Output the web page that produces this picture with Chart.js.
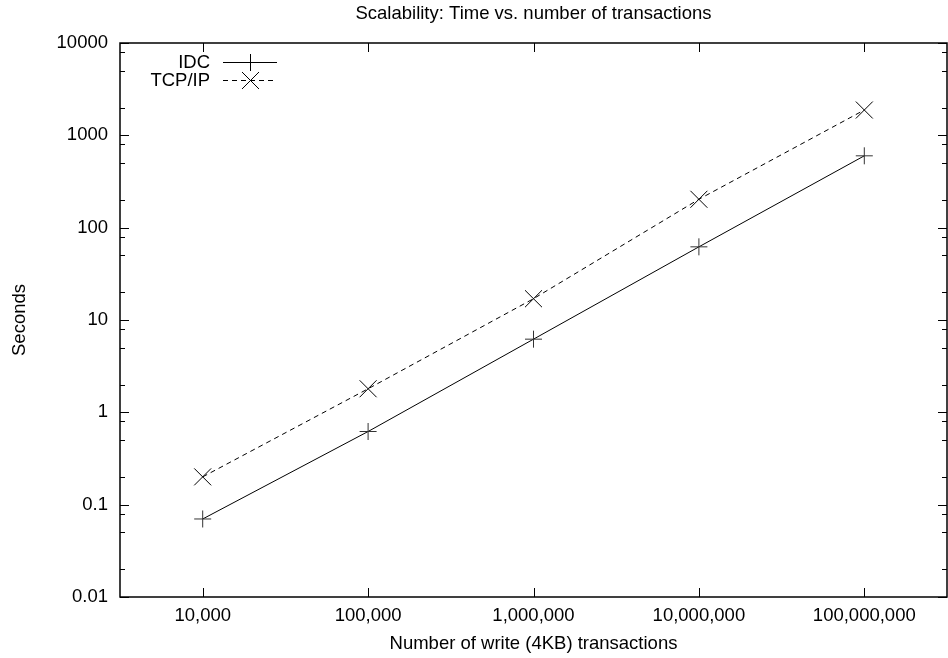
<!DOCTYPE html>
<html>
<head>
<meta charset="utf-8">
<script src="https://cdn.jsdelivr.net/npm/chart.js@4.4.1/dist/chart.umd.min.js"></script>
<style>
html, body { margin: 0; padding: 0; background: #fff; overflow: hidden; }
#wrap { width: 960px; height: 658px; }
</style>
</head>
<body>
<div id="wrap"><canvas id="chart" width="960" height="658"></canvas></div>
<script>
"use strict";
// data (log-log)
const transactions = [10000, 100000, 1000000, 10000000, 100000000];
const xTickLabels = ['10,000', '100,000', '1,000,000', '10,000,000', '100,000,000'];
const idcSeconds = [0.07, 0.62, 6.2, 62, 600];
const tcpSeconds = [0.2, 1.8, 17, 203, 1880];
const yTicks = [0.01, 0.1, 1, 10, 100, 1000, 10000];
const yTickLabels = ['0.01', '0.1', '1', '10', '100', '1000', '10000'];
const minorSteps = [2, 5, 8];

const FAMILY = '"Liberation Sans", Arial, Helvetica, sans-serif';
const FONT_SIZE = 18.5;

// gnuplot-style frame with inward ticks, mirrored on top/right
const frameTicks = {
    id: 'frameTicks',
    afterDatasetsDraw(chart) {
        const { ctx, chartArea: a, scales: { x, y } } = chart;
        ctx.save();
        ctx.strokeStyle = '#000';
        ctx.lineWidth = 1;
        ctx.beginPath();
        transactions.forEach(v => {
            const px = Math.round(x.getPixelForValue(v)) + 0.5;
            ctx.moveTo(px, a.bottom); ctx.lineTo(px, a.bottom - 9);
            ctx.moveTo(px, a.top); ctx.lineTo(px, a.top + 9);
        });
        yTicks.forEach(v => {
            const py = Math.round(y.getPixelForValue(v)) + 0.5;
            ctx.moveTo(a.left, py); ctx.lineTo(a.left + 9, py);
            ctx.moveTo(a.right, py); ctx.lineTo(a.right - 9, py);
            minorSteps.forEach(m => {
                const mv = v * m;
                if (mv >= y.max) return;
                const my = Math.round(y.getPixelForValue(mv)) + 0.5;
                ctx.moveTo(a.left, my); ctx.lineTo(a.left + 5, my);
                ctx.moveTo(a.right, my); ctx.lineTo(a.right - 5, my);
            });
        });
        ctx.stroke();
        ctx.lineWidth = 1.5;
        ctx.strokeRect(a.left, a.top, a.right - a.left, a.bottom - a.top);
        ctx.restore();
    }
};

// key in the top-left corner: label, then line sample with marker
const keyBox = {
    id: 'keyBox',
    afterDraw(chart) {
        const { ctx, chartArea: a } = chart;
        ctx.save();
        ctx.font = FONT_SIZE + 'px ' + FAMILY;
        ctx.textAlign = 'right';
        ctx.textBaseline = 'middle';
        ctx.fillStyle = '#000';
        chart.data.datasets.forEach((ds, i) => {
            const rowY = Math.round(a.top + 18.5 + i * 18.5) + 0.5;
            ctx.fillText(ds.label, a.left + 90, rowY);
            ctx.strokeStyle = ds.borderColor;
            ctx.lineWidth = ds.borderWidth;
            ctx.setLineDash(ds.borderDash || []);
            ctx.beginPath();
            ctx.moveTo(a.left + 103, rowY);
            ctx.lineTo(a.left + 157, rowY);
            ctx.stroke();
            ctx.setLineDash([]);
            Chart.helpers.drawPoint(ctx, {
                pointStyle: ds.pointStyle, radius: ds.pointRadius, borderWidth: 1, rotation: 0
            }, a.left + 130.5, rowY);
        });
        ctx.restore();
    }
};

const ctx = document.getElementById('chart').getContext('2d');
new Chart(ctx, {
    type: 'line',
    data: {
        datasets: [{
            label: 'IDC',
            data: transactions.map((t, i) => ({ x: t, y: idcSeconds[i] })),
            borderColor: '#000',
            borderWidth: 1,
            pointStyle: 'cross',
            pointRadius: 8.5,
            pointBorderColor: '#333',
            pointBorderWidth: 1,
            fill: false,
            tension: 0
        }, {
            label: 'TCP/IP',
            data: transactions.map((t, i) => ({ x: t, y: tcpSeconds[i] })),
            borderColor: '#000',
            borderWidth: 1,
            borderDash: [5, 4],
            pointStyle: 'crossRot',
            pointRadius: 12,
            pointBorderColor: '#000',
            pointBorderWidth: 1,
            fill: false,
            tension: 0
        }]
    },
    options: {
        responsive: false,
        animation: false,
        devicePixelRatio: 1,
        events: [],
        layout: { padding: { left: 0, right: 9, top: 0, bottom: 0 } },
        font: { family: FAMILY, size: FONT_SIZE },
        plugins: {
            legend: { display: false },
            tooltip: { enabled: false },
            title: {
                display: true,
                text: 'Scalability: Time vs. number of transactions',
                color: '#000',
                fullSize: false,
                font: { family: FAMILY, size: FONT_SIZE, weight: 'normal' },
                padding: { top: 3, bottom: 17.8 }
            }
        },
        scales: {
            x: {
                type: 'logarithmic',
                position: 'bottom',
                bounds: 'data',
                min: Math.pow(10, 3.5),
                max: Math.pow(10, 8.5),
                grid: { display: false, drawTicks: false },
                border: { display: false },
                afterBuildTicks: s => { s.ticks = transactions.map(v => ({ value: v })); },
                afterFit: s => { s.height = 61; s.paddingLeft = 0; s.paddingRight = 0; },
                ticks: {
                    color: '#000',
                    padding: 8,
                    autoSkip: false,
                    maxRotation: 0,
                    font: { family: FAMILY, size: FONT_SIZE },
                    callback: (v, i) => xTickLabels[i]
                },
                title: {
                    display: true,
                    text: 'Number of write (4KB) transactions',
                    color: '#000',
                    font: { family: FAMILY, size: FONT_SIZE },
                    padding: { top: 0, bottom: 3 }
                }
            },
            y: {
                type: 'logarithmic',
                position: 'left',
                min: 0.01,
                max: 10000,
                grid: { display: false, drawTicks: false },
                border: { display: false },
                afterBuildTicks: s => { s.ticks = yTicks.map(v => ({ value: v })); },
                afterFit: s => { s.width = 120; s.paddingTop = 0; s.paddingBottom = 0; },
                ticks: {
                    color: '#000',
                    padding: 12,
                    autoSkip: false,
                    font: { family: FAMILY, size: FONT_SIZE },
                    callback: (v, i) => yTickLabels[i]
                },
                title: {
                    display: true,
                    text: 'Seconds',
                    color: '#000',
                    font: { family: FAMILY, size: FONT_SIZE },
                    padding: { top: 9, bottom: 0 }
                }
            }
        }
    },
    plugins: [frameTicks, keyBox]
});
</script>
</body>
</html>
